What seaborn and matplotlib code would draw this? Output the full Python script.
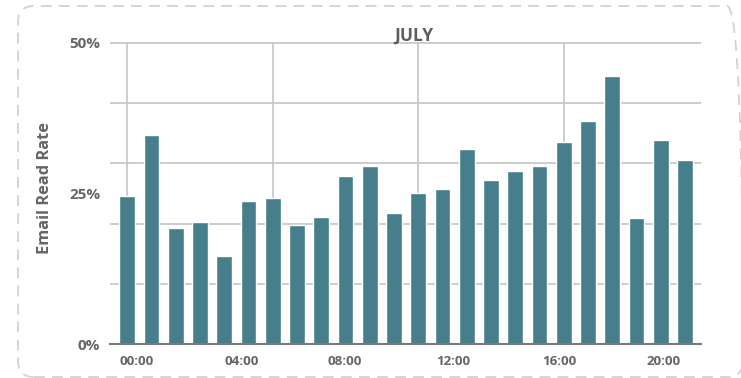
import matplotlib
matplotlib.use("Agg")
import matplotlib.pyplot as plt
from matplotlib.patches import FancyBboxPatch
from matplotlib.transforms import IdentityTransform
import seaborn as sns
import pandas as pd

# Hourly email read rate (%) for July
hours = [f"{h:02d}:00" for h in range(24)]
read_rate = [24.6, 34.7, 19.2, 20.3, 14.6, 23.7, 24.2, 19.8, 21.1, 27.9, 29.6, 21.7,
             25.1, 25.7, 32.4, 27.3, 28.7, 29.5, 33.6, 37.0, 44.4, 20.9, 33.8, 30.6]

x_tick_labels = ["00:00", "04:00", "08:00", "12:00", "16:00", "20:00"]
x_tick_pos = [0.40, 4.73, 8.98, 13.44, 17.80, 22.10]
x_grid_pos = [0, 6, 12, 18]
y_tick_vals = [0, 25, 50]
y_tick_labels = ["0%", "25%", "50%"]
y_grid_vals = [0, 10, 20, 30, 40, 50]

BAR = "#467f8b"
TEXT = "#666666"
GRID = "#c9c9c9"

df = pd.DataFrame({"hour": hours, "rate": read_rate})

sns.set_theme(style="white")
plt.rcParams["font.family"] = ["Open Sans", "DejaVu Sans"]

W, H = 741, 378
fig = plt.figure(figsize=(W / 100, H / 100), dpi=100)
ax = fig.add_axes([110 / W, 1 - 344.3 / H, 591 / W, (344.3 - 41.5) / H])

sns.barplot(data=df, x="hour", y="rate", order=hours, color=BAR,
            saturation=1, width=0.647, ax=ax, zorder=3)

ax.set_xlim(-0.709, 23.66)
ax.set_ylim(0, 50.2)

# grid lines as minor ticks, labels as major ticks
ax.xaxis.remove_overlapping_locs = False
ax.yaxis.remove_overlapping_locs = False
ax.set_xticks(x_grid_pos, minor=True)
ax.set_yticks(y_grid_vals, minor=True)
ax.grid(False)
ax.grid(which="minor", axis="both", color=GRID, linewidth=1.3, zorder=0)
ax.set_axisbelow(True)

ax.set_xticks(x_tick_pos, x_tick_labels)
ax.set_yticks(y_tick_vals, y_tick_labels)
ax.tick_params(which="both", length=0)
ax.tick_params(axis="x", pad=8, labelsize=9.6, labelcolor=TEXT)
ax.tick_params(axis="y", pad=7, labelsize=11, labelcolor=TEXT)
for lbl in ax.get_xticklabels() + ax.get_yticklabels():
    lbl.set_fontweight("bold")

for side in ("top", "right", "left"):
    ax.spines[side].set_visible(False)
ax.spines["bottom"].set_color("#7a7a7a")
ax.spines["bottom"].set_linewidth(1.5)
ax.spines["bottom"].set_zorder(4)
ax.set_facecolor("none")

ax.set_xlabel("")
ax.set_ylabel("")
fig.text(45 / W, 1 - 187.5 / H, "Email Read Rate", rotation=90, ha="center",
         va="center", fontsize=11.8, fontweight="bold", color=TEXT)
fig.text(413.5 / W, 1 - 41 / H, "JULY", ha="center", va="baseline",
         fontsize=12.5, fontweight="bold", color="#5e5e5e")

# dashed rounded frame around the card
frame = FancyBboxPatch((18, H - 377), 725, 371,
                       boxstyle="round,pad=0,rounding_size=16",
                       transform=IdentityTransform(), fill=False,
                       edgecolor="#d2d2d2", linewidth=1.3,
                       linestyle=(0, (6, 4)))
fig.add_artist(frame)

fig.savefig("out.png", dpi=100)
